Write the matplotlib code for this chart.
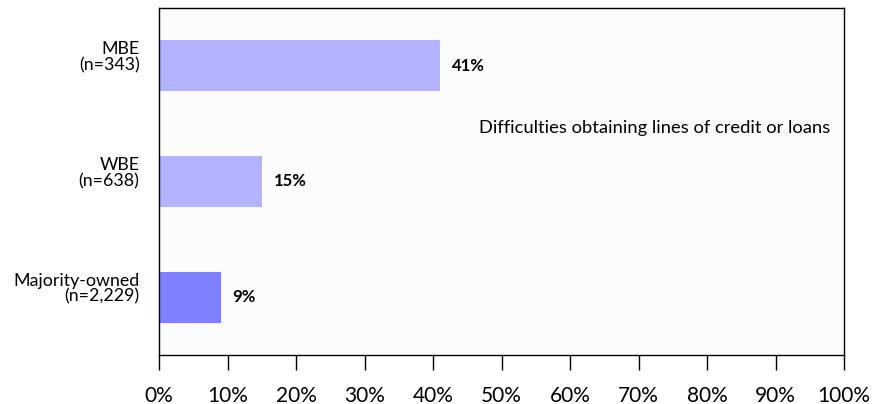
import matplotlib
matplotlib.use("Agg")
import matplotlib.pyplot as plt
import matplotlib.transforms as mtransforms
from matplotlib.ticker import PercentFormatter

# Share reporting difficulty obtaining credit, by business ownership
groups = ["MBE\n(n=343)", "WBE\n(n=638)", "Majority-owned\n(n=2,229)"]
shares = [41, 15, 9]
colors = ["#b3b3ff", "#b3b3ff", "#8080ff"]
xticks = list(range(0, 101, 10))

plt.rcParams["font.family"] = ["Lato", "DejaVu Sans"]

fig = plt.figure(figsize=(8.78, 4.04), dpi=100)
ax = fig.add_axes([0.1811, 0.1213, 0.7802, 0.8589])
ax.set_facecolor("#fcfcfc")

ypos = list(range(len(groups)))
ax.barh(ypos, shares, height=0.44, color=colors, zorder=2)
for y, v in zip(ypos, shares):
    ax.annotate(f"{v}%", (v, y), xytext=(8.5, 0), textcoords="offset points",
                va="center", ha="left", fontsize=12, fontweight="bold")

ax.text(0.98, 0.654, "Difficulties obtaining lines of credit or loans",
        transform=ax.transAxes, ha="right", va="center", fontsize=13.2)

ax.set_xlim(0, 100)
ax.set_ylim(len(groups) - 0.5, -0.5)
ax.set_xticks(xticks)
ax.xaxis.set_major_formatter(PercentFormatter(decimals=0))
ax.set_yticks(ypos)
ax.set_yticklabels(groups, fontsize=12.8, linespacing=1.0)
ax.tick_params(axis="y", length=0, pad=14)
ax.tick_params(axis="x", direction="out", length=11, width=1, labelsize=15, pad=11)

# category labels sit a little above the bar centres
shift = mtransforms.ScaledTranslation(0, 10 / 100, fig.dpi_scale_trans)
for lbl in ax.get_yticklabels():
    lbl.set_transform(lbl.get_transform() + shift)

for s in ax.spines.values():
    s.set_linewidth(1)
    s.set_color("black")

fig.savefig("out.png", dpi=100)
